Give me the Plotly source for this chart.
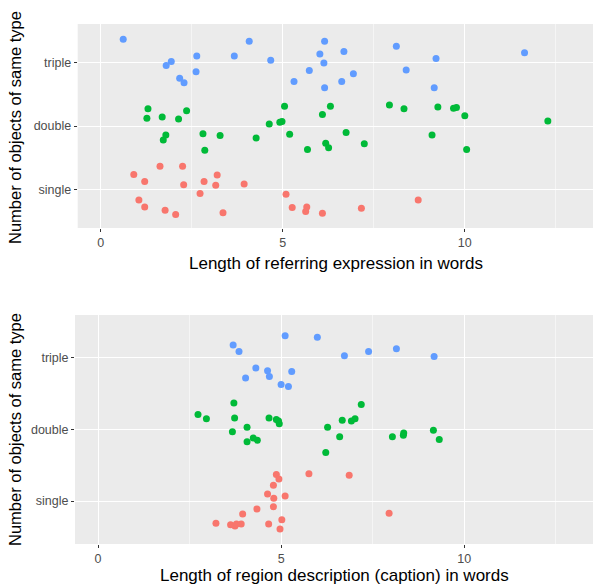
import plotly.graph_objects as go

# ---------------- data ----------------
categories = ["single", "double", "triple"]
cat_pos = [1, 2, 3]

# Top panel: length of referring expression (x) vs jittered category (y)
ref_single_x = [1.63, 2.25, 0.91, 1.21, 2.28, 2.84, 3.20, 3.16, 3.94, 2.73, 1.05, 1.21, 1.77, 2.06, 3.36,
                5.09, 5.26, 5.66, 5.63, 6.09, 7.16, 8.72]
ref_single_y = [1.37, 1.37, 1.24, 1.13, 1.08, 1.13, 1.23, 1.07, 1.09, 0.94, 0.84, 0.73, 0.68, 0.61, 0.64,
                0.93, 0.72, 0.73, 0.66, 0.63, 0.71, 0.84]
ref_double_x = [1.30, 1.27, 1.69, 2.14, 2.36, 1.79, 1.72, 2.81, 3.28, 2.86, 4.27, 4.63, 4.92, 4.98, 5.05, 5.19,
                6.31, 6.09, 6.74, 5.68, 6.18, 6.26, 7.24, 7.93, 8.33, 9.26, 9.69, 9.77, 10.0, 9.10, 10.05, 12.28]
ref_double_y = [2.27, 2.12, 2.14, 2.11, 2.24, 1.86, 1.78, 1.88, 1.85, 1.62, 1.81, 2.03, 2.06, 2.07, 2.31, 1.87,
                2.31, 2.18, 1.90, 1.63, 1.73, 1.66, 1.72, 2.33, 2.27, 2.30, 2.28, 2.29, 2.16, 1.86, 1.63, 2.08]
ref_triple_x = [0.62, 4.08, 2.64, 3.67, 4.67, 1.94, 1.80, 2.62, 2.17, 2.29, 5.31,
                6.15, 6.02, 6.68, 6.13, 5.73, 6.62, 6.94, 6.15, 8.12, 9.21, 8.39, 9.16, 11.64]
ref_triple_y = [3.36, 3.33, 3.10, 3.10, 3.03, 3.01, 2.95, 2.85, 2.75, 2.68, 2.70,
                3.33, 3.13, 3.17, 2.99, 2.87, 2.70, 2.82, 2.60, 3.25, 3.06, 2.88, 2.60, 3.15]

# Bottom panel: length of region description (caption)
cap_single_x = [4.87, 4.94, 4.79, 4.63, 5.11, 4.80, 4.79, 4.34, 3.95, 5.02, 3.22, 3.62, 3.74, 3.78, 3.91,
                4.66, 4.97, 5.76, 6.86, 7.95]
cap_single_y = [1.37, 1.31, 1.22, 1.10, 1.07, 1.04, 0.92, 0.89, 0.82, 0.74, 0.69, 0.67, 0.65, 0.68, 0.68,
                0.68, 0.61, 1.38, 1.36, 0.83]
cap_double_x = [3.71, 2.73, 2.96, 3.73, 4.67, 4.87, 4.93, 4.95, 4.07, 3.67, 4.07, 4.24, 4.35,
                7.19, 6.67, 6.92, 7.02, 6.27, 6.60, 6.22, 8.04, 8.34, 8.35, 9.16, 9.32]
cap_double_y = [2.37, 2.21, 2.15, 2.16, 2.16, 2.14, 2.12, 2.08, 2.03, 1.97, 1.83, 1.88, 1.85,
                2.35, 2.13, 2.12, 2.15, 2.03, 1.90, 1.68, 1.90, 1.92, 1.95, 1.99, 1.86]
cap_triple_x = [5.11, 3.69, 3.85, 4.31, 4.63, 4.68, 4.03, 5.29, 5.00, 5.20, 5.99, 6.73, 7.39, 8.15, 9.18]
cap_triple_y = [3.31, 3.18, 3.09, 2.86, 2.82, 2.74, 2.72, 2.81, 2.63, 2.60, 3.29, 3.03, 3.09, 3.13, 3.02]

x_ticks = [0, 5, 10]
x_tick_labels = ["0", "5", "10"]

colors = {"single": "#F8766D", "double": "#00BA38", "triple": "#619CFF"}

# ---------------- figure ----------------
W, H = 593, 587
fig = go.Figure()

def add(xs, ys, cat, xa, ya):
    fig.add_trace(go.Scatter(x=xs, y=ys, mode="markers", xaxis=xa, yaxis=ya,
                             marker=dict(color=colors[cat], size=7, line=dict(width=0)),
                             showlegend=False, name=cat))

add(ref_single_x, ref_single_y, "single", "x", "y")
add(ref_double_x, ref_double_y, "double", "x", "y")
add(ref_triple_x, ref_triple_y, "triple", "x", "y")
add(cap_single_x, cap_single_y, "single", "x2", "y2")
add(cap_double_x, cap_double_y, "double", "x2", "y2")
add(cap_triple_x, cap_triple_y, "triple", "x2", "y2")

def px_x(p):
    return p / W

def px_y(p):
    return 1 - p / H

tickfont = dict(family="Liberation Sans, Arial, sans-serif", size=12.5, color="#4D4D4D")

xcommon = dict(
    range=[-0.63, 13.52], tickvals=x_ticks, ticktext=x_tick_labels,
    showgrid=True, gridcolor="white", gridwidth=1.3, zeroline=False,
    ticks="outside", ticklen=3, tickwidth=1, tickcolor="#333333",
    tickfont=tickfont, showline=False, automargin=False,
    minor=dict(dtick=2.5, tick0=0, showgrid=True, gridcolor="#F5F5F5", gridwidth=0.7, ticks=""),
)
ycommon = dict(
    range=[0.4, 3.6], tickvals=cat_pos, ticktext=categories,
    showgrid=True, gridcolor="white", gridwidth=1.3, zeroline=False,
    ticks="outside", ticklen=3, tickwidth=1, tickcolor="#333333",
    tickfont=tickfont, showline=False, automargin=False,
)

fig.update_layout(
    width=W, height=H,
    margin=dict(l=0, r=0, t=0, b=0),
    paper_bgcolor="white", plot_bgcolor="#EBEBEB",
    xaxis=dict(domain=[px_x(77.7), 1], anchor="y", **xcommon),
    yaxis=dict(domain=[px_y(228), px_y(24)], anchor="x", **ycommon),
    xaxis2=dict(domain=[px_x(75), 1], anchor="y2", **xcommon),
    yaxis2=dict(domain=[px_y(544), px_y(315)], anchor="x2", **ycommon),
)

xtitlefont = dict(family="Liberation Sans, Arial, sans-serif", size=17, color="black")
ytitlefont = dict(family="Liberation Sans, Arial, sans-serif", size=16.5, color="black")
ann = [
    dict(text="Length of referring expression in words", x=px_x(336), y=px_y(263), font=xtitlefont),
    dict(text="Length of region description (caption) in words", x=px_x(334), y=px_y(575), font=xtitlefont),
    dict(text="Number of objects of same type", x=px_x(15), y=px_y(128), textangle=-90, font=ytitlefont),
    dict(text="Number of objects of same type", x=px_x(15), y=px_y(430), textangle=-90, font=ytitlefont),
]
for a in ann:
    fig.add_annotation(xref="paper", yref="paper", showarrow=False,
                       xanchor="center", yanchor="middle", **a)

fig.write_html("out.html", config={"displayModeBar": False},
               post_script="document.body.style.margin='0';document.body.style.padding='0';")
